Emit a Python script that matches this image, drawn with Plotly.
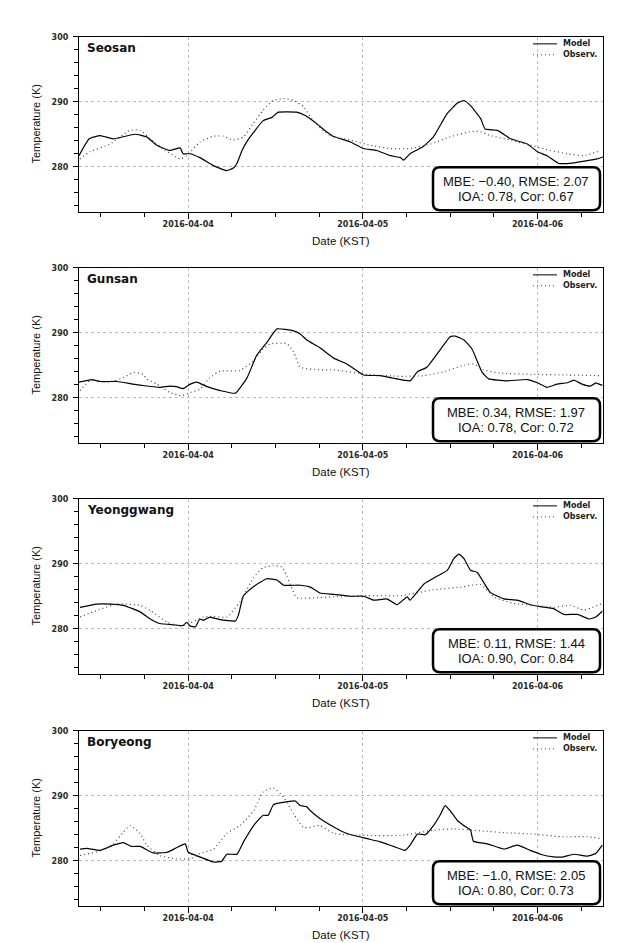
import plotly.graph_objects as go
from plotly.subplots import make_subplots
import pandas as pd

# ---------------- data (hours since 2016-04-03 09:00 KST, temperature K) ----------------
stations = ["Seosan", "Gunsan", "Yeonggwang", "Boryeong"]
stats_line1 = ["MBE: −0.40, RMSE: 2.07", "MBE: 0.34, RMSE: 1.97",
               "MBE: 0.11, RMSE: 1.44", "MBE: −1.0, RMSE: 2.05"]
stats_line2 = ["IOA: 0.78, Cor: 0.67", "IOA: 0.78, Cor: 0.72",
               "IOA: 0.90, Cor: 0.84", "IOA: 0.80, Cor: 0.73"]

seosan_model_h = [0, 1.4, 2.9, 4.7, 7.7, 9.3, 10.7, 12.5, 13.9, 14.3, 15.3, 16.6, 18.4, 20.3, 21.2, 21.7,
                  22.4, 23.2, 25.3, 26.5, 27.4, 29.9, 31.1, 32.0, 32.7, 34.1, 34.9, 37.3, 39.1, 40.9,
                  42.8, 44.2, 44.6, 45.5, 47.3, 48.7, 50.6, 52.0, 52.9, 53.8, 55.2, 55.8, 57.5, 59.3,
                  61.6, 63.0, 64.3, 65.9, 68.0, 71.2, 72]
seosan_model_T = [281.7, 284.3, 284.8, 284.3, 285.0, 284.6, 283.3, 282.5, 282.9, 282.0, 282.0, 281.4, 280.2,
                  279.4, 279.8, 280.5, 282.5, 284.1, 287.1, 287.6, 288.4, 288.4, 287.9, 287.2, 286.6, 285.3,
                  284.7, 283.8, 282.8, 282.5, 281.7, 281.4, 281.0, 282.0, 283.1, 284.6, 288.2, 289.8, 290.2,
                  289.4, 287.4, 285.8, 285.6, 284.3, 283.5, 282.3, 281.7, 280.5, 280.6, 281.2, 281.5]
seosan_obs_h = [0.1, 1.5, 4.3, 7.0, 8.4, 9.8, 11.1, 13.9, 14.8, 16.6, 18.5, 19.8, 21.2, 22.6, 23.9, 25.3,
                26.7, 28.1, 29.5, 30.9, 32.2, 34.5, 37.3, 40.0, 42.8, 45.5, 48.3, 51.0, 53.8, 55.2, 56.5,
                59.3, 62.0, 64.8, 67.1, 69.3, 71.7]
seosan_obs_T = [281.2, 282.3, 283.5, 285.6, 285.6, 284.3, 283.1, 281.2, 281.7, 283.8, 284.7, 284.7, 284.1,
                284.6, 286.6, 288.7, 290.2, 290.5, 290.2, 289.2, 287.0, 284.8, 284.1, 283.3, 282.8, 282.8,
                283.5, 284.6, 285.4, 285.4, 284.8, 284.1, 283.3, 282.5, 282.0, 281.7, 282.5]

gunsan_model_h = [0, 1.75, 2.9, 5.2, 7.4, 9.3, 11.1, 12.5, 13.4, 14.3, 15.3, 16.2, 17.6, 19.4, 21.5, 23.1,
                  24.4, 25.8, 27.2, 29.5, 30.4, 31.3, 33.1, 35.0, 36.8, 39.1, 41.4, 43.2, 45.5, 46.5, 47.8,
                  49.7, 51.0, 51.7, 52.9, 54.0, 55.4, 56.3, 58.8, 61.6, 63.0, 64.3, 65.7, 67.1, 68.0, 69.1,
                  70.3, 71.0, 71.9]
gunsan_model_T = [282.4, 282.8, 282.5, 282.5, 282.1, 281.8, 281.6, 281.8, 281.7, 281.4, 282.1, 282.4, 281.7,
                  281.1, 280.7, 283.1, 286.5, 288.5, 290.6, 290.3, 289.8, 288.9, 287.7, 286.1, 285.2, 283.5,
                  283.4, 283.0, 282.6, 284.0, 284.7, 287.5, 289.4, 289.5, 288.9, 287.5, 283.9, 282.9, 282.6,
                  282.8, 282.3, 281.6, 282.1, 282.3, 282.7, 282.1, 281.8, 282.3, 281.9]
gunsan_obs_h = [0.14, 1.5, 4.3, 6.1, 7.5, 8.8, 9.3, 10.7, 12.5, 14.1, 15.3, 16.6, 18.0, 19.4, 22.1, 24.0,
                25.3, 26.3, 28.6, 29.5, 30.4, 33.1, 35.0, 39.6, 44.2, 47.4, 50.1, 52.9, 54.2, 55.6, 57.9,
                62.5, 67.1, 71.9]
gunsan_obs_T = [281.1, 282.6, 282.4, 283.1, 283.9, 283.6, 282.9, 282.1, 280.8, 280.3, 280.8, 281.3, 283.1,
                284.1, 284.2, 285.7, 287.5, 288.3, 288.3, 287.0, 284.7, 284.3, 284.3, 283.6, 283.3, 283.4,
                284.0, 285.0, 285.2, 284.3, 283.8, 283.6, 283.5, 283.4]

yeong_model_h = [0.14, 2.4, 4.3, 6.1, 8.4, 9.8, 11.1, 13.0, 14.3, 14.8, 15.3, 16.0, 16.6, 17.1, 18.0, 19.4,
                 21.5, 21.9, 22.6, 24.0, 25.8, 27.2, 28.1, 29.5, 30.4, 31.8, 33.1, 35.0, 37.3, 39.1, 40.5,
                 42.3, 43.7, 45.1, 45.5, 47.4, 49.2, 50.6, 51.5, 52.2, 52.9, 53.8, 54.7, 56.5, 58.4, 60.2,
                 62.0, 63.4, 65.2, 66.6, 68.5, 70.1, 71.0, 71.9]
yeong_model_T = [283.3, 283.8, 283.8, 283.6, 282.6, 281.5, 280.8, 280.6, 280.5, 281.0, 280.4, 280.3, 281.5,
                 281.3, 281.8, 281.4, 281.2, 282.1, 285.1, 286.5, 287.7, 287.5, 286.7, 286.7, 286.7, 286.4,
                 285.5, 285.3, 285.0, 285.0, 284.4, 284.6, 283.7, 284.9, 284.4, 286.9, 288.1, 289.0, 290.8,
                 291.5, 290.8, 289.0, 288.7, 285.6, 284.6, 284.4, 283.7, 283.4, 283.1, 282.2, 282.2, 281.5,
                 281.8, 282.7]
yeong_obs_h = [0.14, 2.4, 5.2, 8.4, 9.8, 12.1, 13.9, 15.3, 17.1, 18.5, 20.3, 22.1, 24.0, 25.3, 26.7, 27.9,
               29.0, 29.9, 33.1, 35.0, 39.6, 44.2, 48.7, 52.4, 55.2, 57.0, 59.7, 62.5, 65.2, 67.5, 69.4, 71.9]
yeong_obs_T = [281.8, 282.8, 283.8, 283.6, 282.8, 281.0, 280.4, 280.9, 281.8, 281.9, 281.8, 284.1, 287.9,
               289.4, 289.7, 289.5, 286.9, 284.8, 284.8, 284.9, 285.1, 285.1, 286.0, 286.4, 286.8, 284.9,
               283.9, 283.6, 283.3, 283.6, 282.9, 283.9]

boryeong_model_h = [0.14, 1.06, 2.9, 4.7, 6.1, 7.2, 8.4, 10.2, 12.1, 13.4, 14.6, 15.0, 16.6, 18.5, 19.6, 20.3,
                    21.7, 22.6, 24.2, 25.3, 26.0, 26.7, 27.6, 29.7, 30.4, 31.3, 31.8, 33.1, 35.0, 36.8, 39.6,
                    41.4, 43.2, 44.8, 45.5, 46.5, 47.6, 48.7, 49.7, 50.3, 51.0, 52.0, 52.9, 53.8, 54.2, 56.1,
                    58.4, 60.2, 62.0, 63.4, 65.2, 66.6, 68.0, 69.8, 71.0, 71.9]
boryeong_model_T = [281.8, 281.9, 281.6, 282.4, 282.8, 282.2, 282.2, 281.2, 281.3, 282.0, 282.6, 281.3, 280.6,
                    279.8, 279.9, 281.0, 281.0, 282.9, 285.7, 287.0, 287.0, 288.6, 288.9, 289.2, 288.5, 288.3,
                    287.7, 286.5, 285.2, 284.2, 283.4, 282.9, 282.2, 281.6, 282.4, 284.1, 284.0, 285.4, 287.2,
                    288.5, 287.7, 286.2, 285.4, 284.7, 283.0, 282.6, 281.8, 282.4, 281.6, 281.0, 280.6, 280.6,
                    281.0, 280.7, 281.1, 282.4]
boryeong_obs_h = [0.14, 2.9, 4.7, 6.1, 7.0, 8.4, 9.3, 11.1, 13.4, 15.3, 16.6, 18.5, 20.3, 22.1, 24.0, 25.3,
                  26.7, 28.1, 29.5, 30.9, 33.1, 35.0, 39.6, 44.2, 48.7, 51.5, 55.2, 58.8, 62.5, 66.2, 69.8, 71.9]
boryeong_obs_T = [280.8, 281.5, 282.6, 284.4, 285.4, 284.2, 282.4, 280.8, 280.3, 280.3, 281.1, 281.8, 284.2,
                  285.4, 287.7, 290.6, 291.2, 289.8, 287.2, 285.1, 285.4, 284.2, 283.9, 283.9, 284.7, 284.9,
                  284.6, 284.3, 284.1, 283.7, 283.7, 283.4]

model_h = [seosan_model_h, gunsan_model_h, yeong_model_h, boryeong_model_h]
model_T = [seosan_model_T, gunsan_model_T, yeong_model_T, boryeong_model_T]
obs_h = [seosan_obs_h, gunsan_obs_h, yeong_obs_h, boryeong_obs_h]
obs_T = [seosan_obs_T, gunsan_obs_T, yeong_obs_T, boryeong_obs_T]

start = pd.Timestamp("2016-04-03 09:00")
end = pd.Timestamp("2016-04-06 09:00")

# ---------------- layout geometry (page pixels) ----------------
PAGE_W, PAGE_H = 624, 943
OFF = 8                       # default body margin of the html page
W, H = PAGE_W - OFF, PAGE_H - OFF
PX_L, PX_R = 79, 603
TOPS = [33, 265, 497, 730]
PH = 176


def px(x):
    return (x - OFF) / W


def py(y):
    return 1 - (y - OFF) / H


def to_time(hours):
    return (start + pd.to_timedelta(hours, unit="h")).tolist()


fig = make_subplots(rows=4, cols=1)

tickfont = dict(family="DejaVu Sans", size=8, color="#2a2a2a", weight="bold")
shapes = []
annotations = []

for i in range(4):
    T = TOPS[i]
    r = i + 1
    fig.add_trace(go.Scatter(x=to_time(model_h[i]), y=model_T[i], mode="lines",
                             line=dict(color="black", width=1.2, shape="spline", smoothing=0.4),
                             name="Model"), row=r, col=1)
    fig.add_trace(go.Scatter(x=to_time(obs_h[i]), y=obs_T[i], mode="lines",
                             line=dict(color="#444", width=1.2, dash="1px,3px", shape="spline", smoothing=0.5),
                             name="Observ."), row=r, col=1)

    xa = "xaxis" if i == 0 else f"xaxis{r}"
    ya = "yaxis" if i == 0 else f"yaxis{r}"
    fig.layout[xa].update(
        domain=[px(PX_L), px(PX_R)], type="date", range=[start, end],
        tick0="2016-04-04", dtick=86400000, tickformat="%Y-%m-%d",
        ticks="outside", ticklen=6, tickwidth=1, tickcolor="black",
        showline=True, linecolor="black", linewidth=1.2, mirror=True,
        showgrid=True, gridcolor="#bbbbbb", griddash="dot", gridwidth=1,
        zeroline=False, tickfont=tickfont, ticklabelstandoff=-2,
        minor=dict(dtick=6 * 3600000, tick0="2016-04-04", ticks="outside", ticklen=4,
                   tickcolor="black", showgrid=False),
    )
    fig.layout[ya].update(
        domain=[py(T + PH), py(T)], range=[273, 300], tick0=280, dtick=10,
        ticks="outside", ticklen=5, tickwidth=1, tickcolor="black",
        showline=True, linecolor="black", linewidth=1.2, mirror=True,
        showgrid=True, gridcolor="#bbbbbb", griddash="dot", gridwidth=1,
        zeroline=False, tickfont=tickfont, ticklabelstandoff=3,
        minor=dict(dtick=2, tick0=280, ticks="outside", ticklen=4, tickcolor="black", showgrid=False),
    )

    # station name
    annotations.append(dict(text=stations[i], x=px(85), y=py(T + 11), xref="paper", yref="paper",
                            xanchor="left", yanchor="middle", showarrow=False,
                            font=dict(family="DejaVu Sans", size=12, color="#111", weight="bold")))
    # axis titles
    annotations.append(dict(text="Temperature (K)", x=px(36), y=py(T + PH / 2), xref="paper", yref="paper",
                            xanchor="center", yanchor="middle", showarrow=False, textangle=-90,
                            font=dict(family="Liberation Sans", size=11, color="#111")))
    annotations.append(dict(text="Date (KST)", x=px((PX_L + PX_R) / 2), y=py(T + 205), xref="paper",
                            yref="paper", xanchor="center", yanchor="middle", showarrow=False,
                            font=dict(family="Liberation Sans", size=11.5, color="#111")))
    # legend
    shapes.append(dict(type="line", xref="paper", yref="paper", x0=px(533), x1=px(557),
                       y0=py(T + 7), y1=py(T + 7), line=dict(color="black", width=1)))
    shapes.append(dict(type="line", xref="paper", yref="paper", x0=px(533), x1=px(557),
                       y0=py(T + 18), y1=py(T + 18), line=dict(color="#444", width=1, dash="1px,3px")))
    annotations.append(dict(text="Model", x=px(561), y=py(T + 7), xref="paper", yref="paper",
                            xanchor="left", yanchor="middle", showarrow=False,
                            font=dict(family="DejaVu Sans", size=8, color="#222", weight="bold")))
    annotations.append(dict(text="Observ.", x=px(561), y=py(T + 18), xref="paper", yref="paper",
                            xanchor="left", yanchor="middle", showarrow=False,
                            font=dict(family="DejaVu Sans", size=8, color="#222", weight="bold")))
    # stats box (rounded rectangle)
    x0, x1, y0, y1, rr = 433, 600, T + 131, T + 174, 7
    pts = [("M", x0 + rr, y0), ("L", x1 - rr, y0), ("Q", x1, y0, x1, y0 + rr), ("L", x1, y1 - rr),
           ("Q", x1, y1, x1 - rr, y1), ("L", x0 + rr, y1), ("Q", x0, y1, x0, y1 - rr), ("L", x0, y0 + rr),
           ("Q", x0, y0, x0 + rr, y0)]
    path = ""
    for p in pts:
        cmd = p[0]
        coords = p[1:]
        seg = []
        for k in range(0, len(coords), 2):
            seg.append(f"{px(coords[k]):.5f},{py(coords[k + 1]):.5f}")
        path += cmd + " ".join(seg) + " "
    path += "Z"
    shapes.append(dict(type="path", path=path, xref="paper", yref="paper", fillcolor="white",
                       line=dict(color="black", width=2.5), layer="above"))
    annotations.append(dict(text=stats_line1[i], x=px(516), y=py(T + 145), xref="paper", yref="paper",
                            xanchor="center", yanchor="middle", showarrow=False,
                            font=dict(family="Liberation Sans", size=13, color="#111")))
    annotations.append(dict(text=stats_line2[i], x=px(516), y=py(T + 160.5), xref="paper", yref="paper",
                            xanchor="center", yanchor="middle", showarrow=False,
                            font=dict(family="Liberation Sans", size=13, color="#111")))

fig.update_layout(
    width=W, height=H, margin=dict(l=0, r=0, t=0, b=0),
    paper_bgcolor="white", plot_bgcolor="white", showlegend=False,
    shapes=shapes, annotations=annotations,
)

fig.write_html("out.html")
